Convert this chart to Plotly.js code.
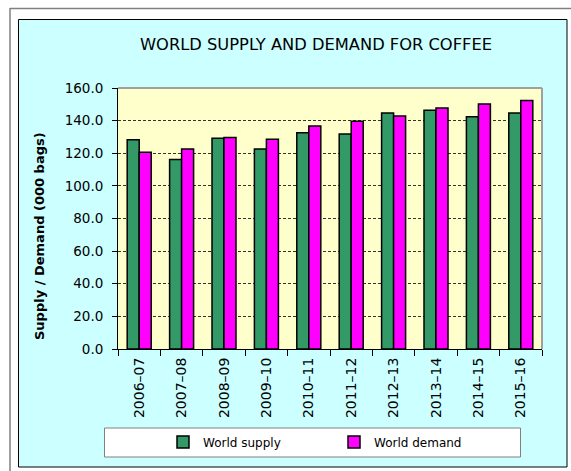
<!DOCTYPE html>
<html><head><meta charset="utf-8">
<script src="https://cdn.plot.ly/plotly-3.0.1.min.js"></script>
<style>html,body{margin:0;padding:0;background:#fff;} #chart{width:571px;height:471px;}</style>
</head><body><div id="chart"></div>
<script>
const seasons = ['2006\u201307','2007\u201308','2008\u201309','2009\u201310','2010\u201311','2011\u201312','2012\u201313','2013\u201314','2014\u201315','2015\u201316'];
const worldSupply = [128.2, 116.1, 129.2, 122.6, 132.6, 131.8, 144.7, 146.3, 142.3, 144.7];
const worldDemand = [120.6, 122.6, 129.6, 128.6, 136.7, 139.6, 142.9, 147.8, 150.2, 152.3];
const yTickValues = [0, 20, 40, 60, 80, 100, 120, 140, 160];
const yTickLabels = yTickValues.map(v => v.toFixed(1));

const W = 571, H = 471, M = {l: 118, r: 29, t: 88, b: 122};
const pw = W - M.l - M.r, ph = H - M.t - M.b;
const px = x => (x - M.l) / pw;
const py = y => (H - M.b - y) / ph;
const FONT = 'DejaVu Sans';

const traces = [
  {type: 'bar', name: 'World supply', x: seasons, y: worldSupply,
   marker: {color: '#339966', line: {color: '#000', width: 1.5}}},
  {type: 'bar', name: 'World demand', x: seasons, y: worldDemand,
   marker: {color: '#FF00FF', line: {color: '#000', width: 1.5}}}
];

const shapes = [
  {type: 'line', xref: 'paper', yref: 'paper', x0: px(10), x1: px(10), y0: py(8), y1: py(480), line: {color: '#808080', width: 1.5}, layer: 'below'},
  {type: 'line', xref: 'paper', yref: 'paper', x0: px(10), x1: px(580), y0: py(8.5), y1: py(8.5), line: {color: '#808080', width: 1.5}, layer: 'below'},
  {type: 'rect', xref: 'paper', yref: 'paper', x0: px(18.5), x1: px(567), y0: py(19.5), y1: py(467), fillcolor: '#CCFFFF', line: {color: '#000', width: 1}, layer: 'below'},
  {type: 'rect', xref: 'paper', yref: 'paper', x0: 0, x1: 1, y0: 0, y1: 1, fillcolor: '#FFFFCC', line: {width: 0}, layer: 'below'},
  {type: 'rect', xref: 'paper', yref: 'paper', x0: px(104.5), x1: px(520.5), y0: py(428), y1: py(457), fillcolor: '#FFFFFF', line: {color: '#808080', width: 1}, layer: 'below'},
  {type: 'line', xref: 'paper', yref: 'paper', x0: 0, x1: 1, y0: 1, y1: 1, line: {color: '#A0A0A0', width: 2}, layer: 'above'},
  {type: 'line', xref: 'paper', yref: 'paper', x0: 1, x1: 1, y0: 0, y1: 1, line: {color: '#A0A0A0', width: 2}, layer: 'above'}
];

const layout = {
  width: W, height: H,
  margin: M,
  paper_bgcolor: '#FFFFFF',
  plot_bgcolor: 'rgba(0,0,0,0)',
  font: {family: FONT, color: '#000'},
  title: {text: 'WORLD SUPPLY AND DEMAND FOR COFFEE', font: {family: FONT, size: 16.3, color: '#000'},
          xref: 'paper', x: px(316), xanchor: 'center', yref: 'container', y: 1 - 44 / H, yanchor: 'middle'},
  barmode: 'group', bargap: 0.434, bargroupgap: 0,
  xaxis: {type: 'category', tickson: 'boundaries', ticks: 'outside', ticklen: 6, tickcolor: '#000',
          tickangle: -90, tickfont: {family: FONT, size: 14, color: '#000'},
          showgrid: false, showline: true, linecolor: '#000', linewidth: 1, ticklabelstandoff: 2},
  yaxis: {range: [0, 160], tickvals: yTickValues, ticktext: yTickLabels, ticks: 'outside', ticklen: 5,
          tickcolor: '#000', showline: true, linecolor: '#000', linewidth: 1, zeroline: false,
          showgrid: true, gridcolor: '#333333', gridwidth: 1, griddash: '3px,2px',
          tickfont: {family: FONT, size: 13.5, color: '#000'}, ticklabelstandoff: 6},
  legend: {orientation: 'h', x: px(163), xanchor: 'left', y: py(442), yanchor: 'middle',
           bgcolor: 'rgba(0,0,0,0)', borderwidth: 0, font: {family: FONT, size: 12, color: '#000'},
           entrywidth: 126, entrywidthmode: 'pixels'},
  showlegend: true,
  shapes: shapes,
  annotations: [
    {xref: 'paper', yref: 'paper', x: px(39), y: py(236), text: 'Supply / Demand (000 bags)', textangle: -90,
     showarrow: false, xanchor: 'center', yanchor: 'middle',
     font: {family: FONT, size: 13, weight: 'bold', color: '#000'}}
  ]
};

Plotly.newPlot('chart', traces, layout, {displayModeBar: false, staticPlot: true});
</script>
</body></html>
